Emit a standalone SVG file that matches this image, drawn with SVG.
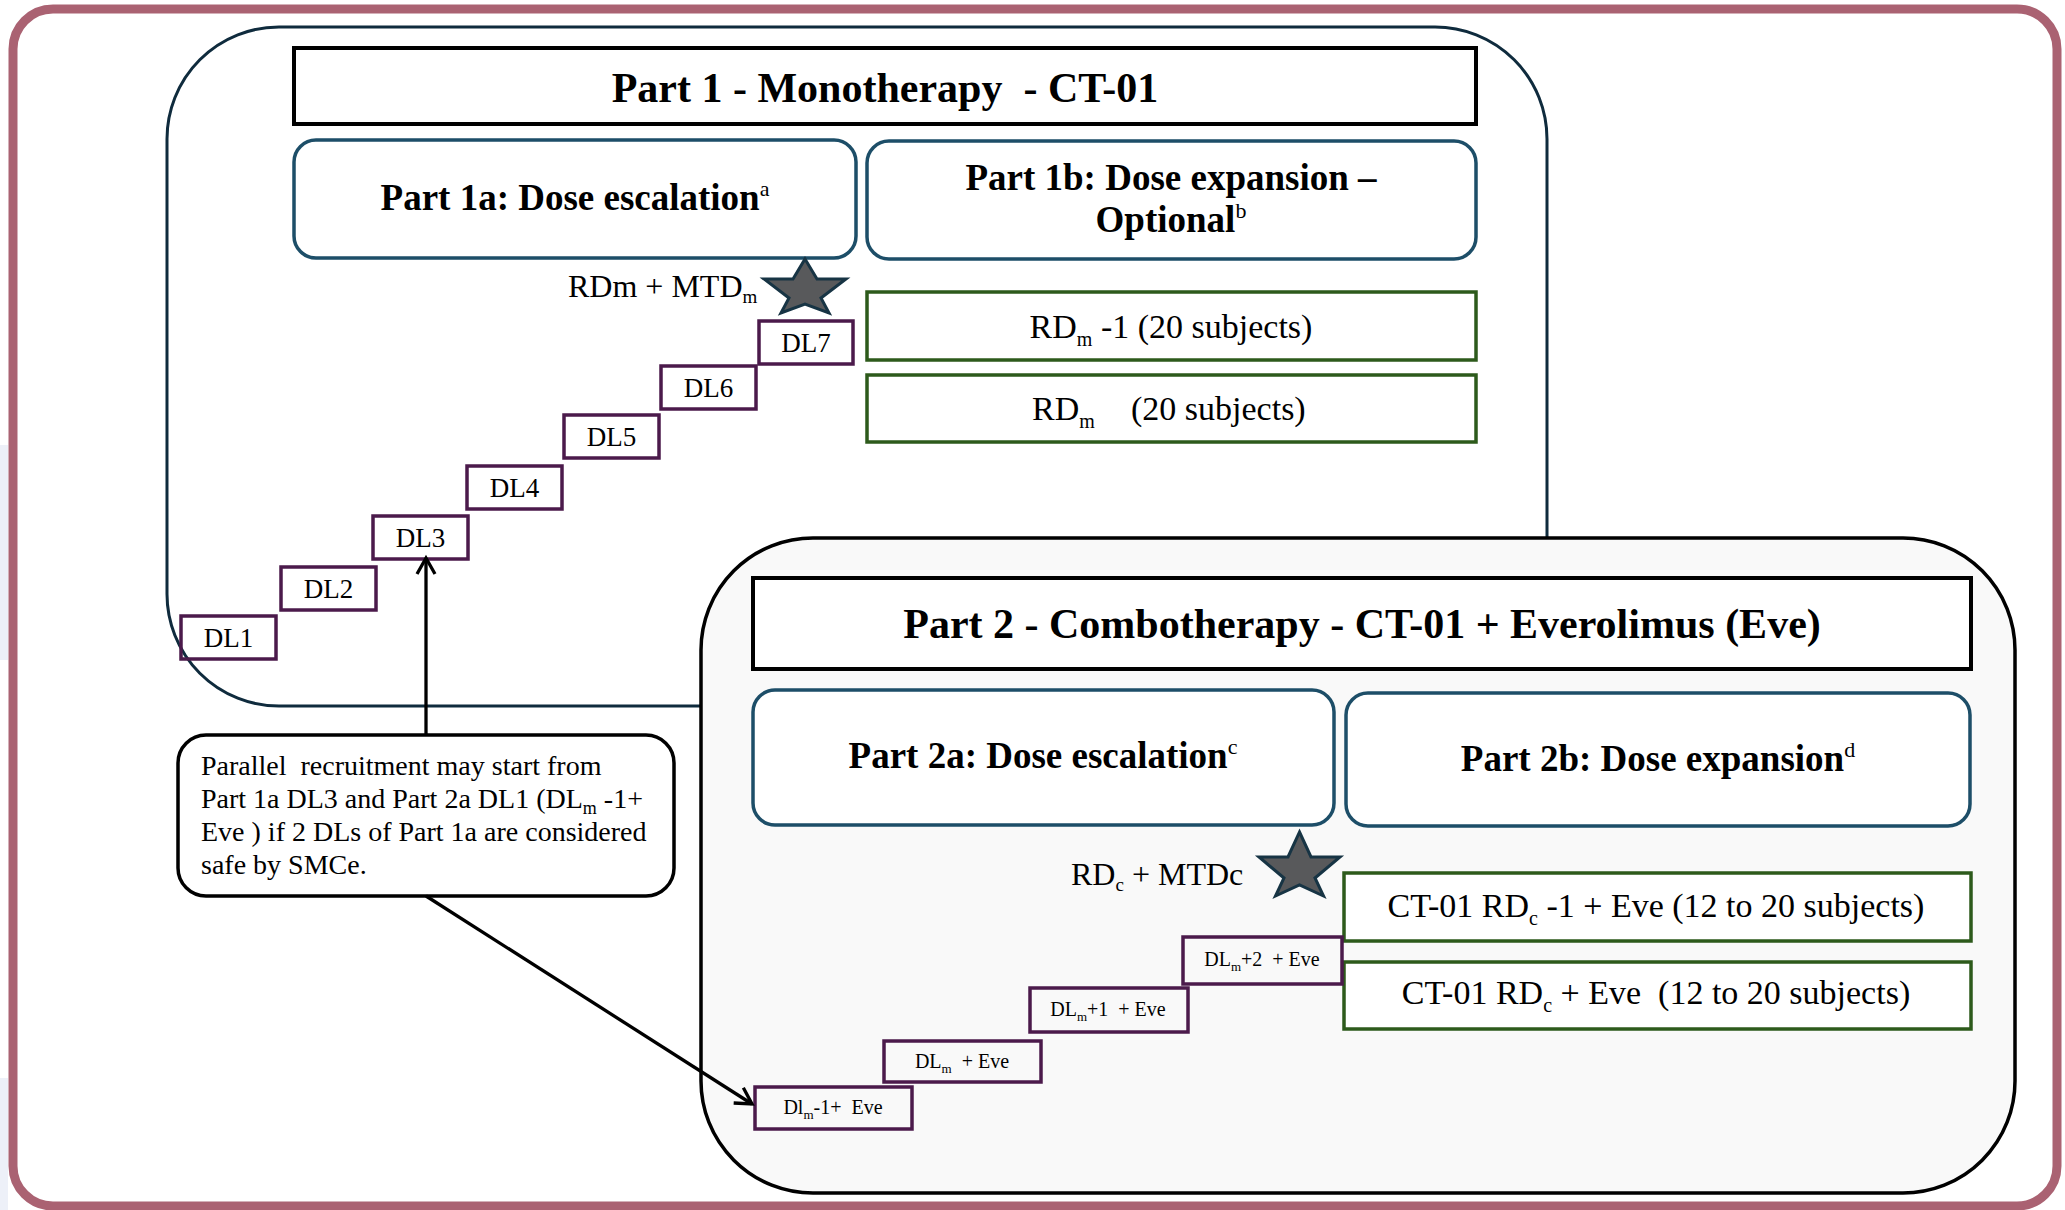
<svg xmlns="http://www.w3.org/2000/svg" width="2065" height="1210" viewBox="0 0 2065 1210">
<defs>
<style>
.frame{fill:#fff;stroke:#aa6272;stroke-width:9}
.c1{fill:#fff;stroke:#0f2b3d;stroke-width:3}
.c2{fill:#f9f9f9;stroke:#000;stroke-width:3.5}
.title{fill:#fff;stroke:#000;stroke-width:4}
.hdr{fill:#fff;stroke:#1d4e68;stroke-width:3.5}
.grn{fill:#fff;stroke:#2d5a1b;stroke-width:3.5}
.dl{fill:none;stroke:#4b1a4b;stroke-width:3.5}
.star{fill:#58595b;stroke:#173444;stroke-width:3}
.call{fill:#fff;stroke:#000;stroke-width:3.5}
.conn{stroke:#000;stroke-width:3.3;fill:none}
text{font-family:"Liberation Serif","Times New Roman",serif;fill:#000}
.tb{font-weight:bold;font-size:42px}
.hb{font-weight:bold;font-size:37px}
.sup{font-weight:normal;font-size:22px}
.t32{font-size:32px}
.t34{font-size:34px}
.t27{font-size:27px}
.t28{font-size:28px}
.t20{font-size:20px}
</style>
<marker id="arr" markerUnits="userSpaceOnUse" markerWidth="22" markerHeight="22" viewBox="0 0 22 22" refX="18" refY="11" orient="auto">
<path d="M2,2 L18,11 L2,20" fill="none" stroke="#000" stroke-width="3.3"/>
</marker>
</defs>
<rect x="0" y="0" width="2065" height="1210" fill="#fff"/>
<rect x="0" y="445" width="8" height="215" fill="#edf0f8"/>
<rect x="0" y="1078" width="8" height="132" fill="#edf0f8"/>
<rect class="frame" x="13" y="9" width="2044" height="1197" rx="40"/>

<g id="part1">
<rect class="c1" x="167" y="27" width="1380" height="679" rx="112"/>
</g>
<g id="part2">
<rect class="c2" x="701" y="538" width="1314" height="655" rx="112"/>
</g>

<g id="part1-title">
<rect class="title" x="294" y="48" width="1182" height="76"/>
<text class="tb" x="885" y="102" text-anchor="middle" xml:space="preserve">Part 1 - Monotherapy  - CT-01</text>
</g>
<g id="part1a">
<rect class="hdr" x="294" y="140" width="562" height="118" rx="22"/>
<text class="hb" x="575" y="210" text-anchor="middle">Part 1a: Dose escalation<tspan class="sup" dy="-14">a</tspan></text>
</g>
<g id="part1b">
<rect class="hdr" x="867" y="141" width="609" height="118" rx="22"/>
<text class="hb" x="1171" y="190" text-anchor="middle">Part 1b: Dose expansion –</text>
<text class="hb" x="1171" y="232" text-anchor="middle">Optional<tspan class="sup" dy="-14">b</tspan></text>
</g>
<g id="star1">
<polygon class="star" points="805,259 817,279 846,279 821,298 829,313 805,304 781,313 789,298 764,279 793,279"/>
<text class="t32" x="568" y="297">RDm + MTD<tspan font-size="19" dy="6">m</tspan></text>
</g>
<g id="rdm-1">
<rect class="grn" x="867" y="292" width="609" height="68"/>
<text class="t34" x="1171" y="338" text-anchor="middle">RD<tspan font-size="20" dy="8">m</tspan><tspan dy="-8"> -1 (20 subjects)</tspan></text>
</g>
<g id="rdm">
<rect class="grn" x="867" y="375" width="609" height="67"/>
<text class="t34" x="1032" y="420">RD<tspan font-size="20" dy="8">m</tspan><tspan x="1131" dy="-8">(20 subjects)</tspan></text>
</g>
<g id="dl1"><rect class="dl" x="181" y="616" width="95" height="43"/><text class="t27" x="228.5" y="647" text-anchor="middle">DL1</text></g>
<g id="dl2"><rect class="dl" x="281" y="567" width="95" height="43"/><text class="t27" x="328.5" y="598" text-anchor="middle">DL2</text></g>
<g id="dl3"><rect class="dl" x="373" y="516" width="95" height="43"/><text class="t27" x="420.5" y="547" text-anchor="middle">DL3</text></g>
<g id="dl4"><rect class="dl" x="467" y="466" width="95" height="43"/><text class="t27" x="514.5" y="497" text-anchor="middle">DL4</text></g>
<g id="dl5"><rect class="dl" x="564" y="415" width="95" height="43"/><text class="t27" x="611.5" y="446" text-anchor="middle">DL5</text></g>
<g id="dl6"><rect class="dl" x="661" y="366" width="95" height="43"/><text class="t27" x="708.5" y="397" text-anchor="middle">DL6</text></g>
<g id="dl7"><rect class="dl" x="759" y="321" width="94" height="43"/><text class="t27" x="806" y="352" text-anchor="middle">DL7</text></g>

<g id="part2-title">
<rect class="title" x="753" y="578" width="1218" height="91"/>
<text class="tb" x="1362" y="638" text-anchor="middle">Part 2 - Combotherapy - CT-01 + Everolimus (Eve)</text>
</g>
<g id="part2a">
<rect class="hdr" x="753" y="690" width="581" height="135" rx="22"/>
<text class="hb" x="1043" y="768" text-anchor="middle">Part 2a: Dose escalation<tspan class="sup" dy="-14">c</tspan></text>
</g>
<g id="part2b">
<rect class="hdr" x="1346" y="693" width="624" height="133" rx="22"/>
<text class="hb" x="1658" y="771" text-anchor="middle">Part 2b: Dose expansion<tspan class="sup" dy="-14">d</tspan></text>
</g>
<g id="star2">
<polygon class="star" points="1299.5,832 1311,857 1340,857 1315,878 1323.5,896 1299.5,885 1275.5,896 1284,878 1259,857 1288,857"/>
<text class="t32" x="1071" y="885">RD<tspan font-size="19" dy="6">c</tspan><tspan dy="-6"> + MTDc</tspan></text>
</g>
<g id="rdc-1">
<rect class="grn" x="1344" y="873" width="627" height="68"/>
<text class="t34" x="1656" y="917" text-anchor="middle">CT-01 RD<tspan font-size="20" dy="8">c</tspan><tspan dy="-8"> -1 + Eve (12 to 20 subjects)</tspan></text>
</g>
<g id="rdc">
<rect class="grn" x="1344" y="962" width="627" height="67"/>
<text class="t34" x="1656" y="1004" text-anchor="middle" xml:space="preserve">CT-01 RD<tspan font-size="20" dy="8">c</tspan><tspan dy="-8"> + Eve  (12 to 20 subjects)</tspan></text>
</g>
<g id="dlm-1"><rect class="dl" x="755" y="1087" width="157" height="42"/><text class="t20" x="833" y="1114" text-anchor="middle" xml:space="preserve">Dl<tspan font-size="13" dy="5">m</tspan><tspan dy="-5">-1+  Eve</tspan></text></g>
<g id="dlm"><rect class="dl" x="884" y="1041" width="157" height="41"/><text class="t20" x="962" y="1068" text-anchor="middle" xml:space="preserve">DL<tspan font-size="13" dy="5">m</tspan><tspan dy="-5">  + Eve</tspan></text></g>
<g id="dlm1"><rect class="dl" x="1030" y="988" width="158" height="44"/><text class="t20" x="1108" y="1016" text-anchor="middle" xml:space="preserve">DL<tspan font-size="13" dy="5">m</tspan><tspan dy="-5">+1  + Eve</tspan></text></g>
<g id="dlm2"><rect class="dl" x="1183" y="937" width="159" height="47"/><text class="t20" x="1262" y="966" text-anchor="middle" xml:space="preserve">DL<tspan font-size="13" dy="5">m</tspan><tspan dy="-5">+2  + Eve</tspan></text></g>

<g id="callout">
<rect class="call" x="178" y="735" width="496" height="161" rx="28"/>
<text class="t28" x="201" y="775" xml:space="preserve">Parallel  recruitment may start from</text>
<text class="t28" x="201" y="808">Part 1a DL3 and Part 2a DL1 (DL<tspan font-size="18" dy="6">m</tspan><tspan dy="-6"> -1+</tspan></text>
<text class="t28" x="201" y="841">Eve ) if 2 DLs of Part 1a are considered</text>
<text class="t28" x="201" y="874">safe by SMCe.</text>
</g>

<g id="connectors">
<line class="conn" x1="426" y1="735" x2="426" y2="558" marker-end="url(#arr)"/>
<line class="conn" x1="426" y1="896" x2="752" y2="1104" marker-end="url(#arr)"/>
</g>
</svg>
